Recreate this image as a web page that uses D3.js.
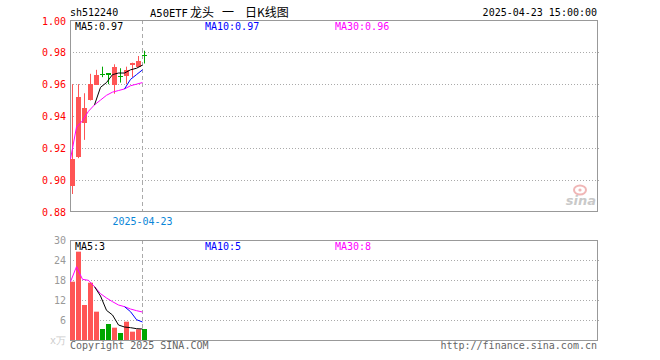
<!DOCTYPE html>
<html>
<head>
<meta charset="utf-8">
<script src="https://cdn.jsdelivr.net/npm/d3@7"></script>
<style>
  body { margin: 0; background: #fff; }
  svg text { font-family: "DejaVu Sans Mono", monospace; font-size: 10px; }
</style>
</head>
<body>
<div id="chart"></div>
<script>
// data
const dates   = ['2025-04-07','2025-04-08','2025-04-09','2025-04-10','2025-04-11','2025-04-14','2025-04-15',
                 '2025-04-16','2025-04-17','2025-04-18','2025-04-21','2025-04-22','2025-04-23']
const opens   = [0.896, 0.914, 0.9355, 0.9497, 0.960, 0.9662, 0.967, 0.960, 0.965, 0.965, 0.9715, 0.971, 0.9785]
const closes  = [0.913, 0.952, 0.945, 0.960, 0.966, 0.9658, 0.966, 0.971, 0.9645, 0.969, 0.973, 0.9745, 0.978]
const highs   = [0.960, 0.960, 0.9543, 0.9665, 0.969, 0.971, 0.967, 0.9725, 0.970, 0.971, 0.9735, 0.9777, 0.981]
const lows    = [0.891, 0.9135, 0.925, 0.9497, 0.960, 0.9644, 0.960, 0.954, 0.961, 0.960, 0.9645, 0.971, 0.973]
const volumes = [17.5, 26.5, 10.5, 17.2, 8.5, 3.3, 4.8, 3.7, 2.1, 5.5, 2.5, 3.2, 3.3]

const priceMA5  = [null, null, null, null, 0.947, 0.958, 0.961, 0.966, 0.967, 0.967, 0.969, 0.970, 0.972]
const priceMA10 = [null, null, null, null, null, null, null, null, null, 0.957, 0.963, 0.966, 0.969]
const priceMA30 = [0.913, 0.933, 0.937, 0.943, 0.947, 0.950, 0.953, 0.955, 0.956, 0.957, 0.959, 0.960, 0.961]
const volMA5    = [null, null, null, null, 16.0, 13.2, 8.9, 7.5, 4.5, 3.9, 3.7, 3.4, 3.3]
const volMA10   = [null, null, null, null, null, null, null, null, null, 10.0, 8.5, 6.1, 5.4]
const volMA30   = [17.5, 22.0, 18.2, 17.9, 16.0, 13.9, 12.6, 11.5, 10.5, 10.0, 9.3, 8.8, 8.4]

const priceTicks = [1.00, 0.98, 0.96, 0.94, 0.92, 0.90, 0.88]
const volTicks   = [30, 24, 18, 12, 6]
const markDate   = '2025-04-23'

function drawChart(){
    const red = '#ff5555'
    const green = '#00a600'
    const maColors = ['#000000', '#0000ff', '#ff00ff']

    // 1. Dimensions
    const dimensions = {
        width: 660,
        height: 360,
        left: 70,
        right: 597,
        priceTop: 20,
        priceBottom: 211,
        volTop: 240,
        volBottom: 340,
        slots: 88,
    }

    const candles = dates.map((d, i) => ({
        date: d, i,
        open: opens[i], close: closes[i], high: highs[i], low: lows[i],
        vol: volumes[i]
    }))

    // 2. Canvas
    const svg = d3.select('#chart')
        .append('svg')
        .attr('width', dimensions.width)
        .attr('height', dimensions.height)

    // 3. Scales
    const xScale = d3.scaleLinear()
        .domain([0, dimensions.slots])
        .range([dimensions.left, dimensions.left + dimensions.slots * 6])

    const yScale = d3.scaleLinear()
        .domain([0.88, 1.00])
        .range([dimensions.priceBottom + 0.5, dimensions.priceTop + 0.5])

    const vScale = d3.scaleLinear()
        .domain([0, 30])
        .range([dimensions.volBottom, dimensions.volTop])

    // 4. Grid and frames
    const grid = svg.append('g')
    grid.selectAll('.pg')
        .data(priceTicks.filter(t => t < 1 && t > 0.88))
        .join('line')
        .attr('x1', dimensions.left).attr('x2', dimensions.right + 2)
        .attr('y1', d => Math.round(yScale(d)) + 0.5)
        .attr('y2', d => Math.round(yScale(d)) + 0.5)
        .attr('stroke', '#aaa').attr('stroke-dasharray', '1,2')
    grid.selectAll('.vg')
        .data(volTicks.filter(t => t < 30))
        .join('line')
        .attr('x1', dimensions.left).attr('x2', dimensions.right + 2)
        .attr('y1', d => Math.round(vScale(d)) + 0.5)
        .attr('y2', d => Math.round(vScale(d)) + 0.5)
        .attr('stroke', '#aaa').attr('stroke-dasharray', '1,2')

    const markIndex = dates.indexOf(markDate)
    const markX = Math.round(xScale(markIndex)) + 0.5
    ;[[dimensions.priceTop, dimensions.priceBottom], [dimensions.volTop, dimensions.volBottom]].forEach(([t, b]) => {
        svg.append('line')
            .attr('x1', markX).attr('x2', markX)
            .attr('y1', t).attr('y2', b)
            .attr('stroke', '#aaa').attr('stroke-dasharray', '4,3')
    })

    // sina watermark
    const wm = svg.append('g').attr('opacity', 0.45)
    wm.append('ellipse').attr('cx', 580).attr('cy', 190).attr('rx', 6).attr('ry', 4.5)
        .attr('fill', 'none').attr('stroke', '#e06060').attr('stroke-width', 2)
    wm.append('circle').attr('cx', 580).attr('cy', 190).attr('r', 1.6).attr('fill', '#e06060')
    wm.append('text').attr('x', 596).attr('y', 205).attr('text-anchor', 'end')
        .style('font-family', 'DejaVu Sans').style('font-size', '13px')
        .style('font-style', 'italic').style('font-weight', 'bold')
        .attr('fill', '#888').text('sina')

    ;[[dimensions.priceTop, dimensions.priceBottom], [dimensions.volTop, dimensions.volBottom]].forEach(([t, b]) => {
        svg.append('rect')
            .attr('x', dimensions.left + 0.5).attr('y', t + 0.5)
            .attr('width', dimensions.right - dimensions.left).attr('height', b - t)
            .attr('fill', 'none').attr('stroke', '#999')
    })

    // 5. Candles
    const colorOf = d => d.close >= d.open ? red : green
    const cg = svg.append('g')
    cg.selectAll('.wick')
        .data(candles)
        .join('line')
        .attr('x1', d => xScale(d.i) + 2.5).attr('x2', d => xScale(d.i) + 2.5)
        .attr('y1', d => yScale(d.high)).attr('y2', d => yScale(d.low))
        .attr('stroke', colorOf)
    cg.selectAll('.body')
        .data(candles)
        .join('rect')
        .attr('x', d => xScale(d.i))
        .attr('width', 5)
        .attr('y', d => Math.round(yScale(Math.max(d.open, d.close))))
        .attr('height', d => Math.max(1, Math.round(Math.abs(yScale(d.open) - yScale(d.close)))))
        .attr('fill', colorOf)

    // volume bars
    svg.append('g').selectAll('rect')
        .data(candles)
        .join('rect')
        .attr('x', d => xScale(d.i))
        .attr('width', 5)
        .attr('y', d => vScale(d.vol))
        .attr('height', d => vScale(0) - vScale(d.vol))
        .attr('fill', colorOf)

    // MA lines
    const drawMA = (values, scale, color) => {
        const line = d3.line()
            .defined(d => d != null)
            .x((d, i) => xScale(i) + 0.5)
            .y(d => scale(d))
        svg.append('path')
            .attr('d', line(values))
            .attr('fill', 'none')
            .attr('stroke', color)
            .attr('stroke-width', 1)
    }
    ;[priceMA30, priceMA10, priceMA5].forEach((s, k) => drawMA(s, yScale, maColors[2 - k]))
    ;[volMA30, volMA10, volMA5].forEach((s, k) => drawMA(s, vScale, maColors[2 - k]))

    // 6. Axes labels
    svg.append('g').selectAll('text')
        .data(priceTicks)
        .join('text')
        .attr('x', 66).attr('y', d => yScale(d) + 4)
        .attr('text-anchor', 'end')
        .attr('fill', '#ff0000')
        .text(d => d3.format('.2f')(d))
    svg.append('g').selectAll('text')
        .data(volTicks)
        .join('text')
        .attr('x', 66).attr('y', d => vScale(d) + 4)
        .attr('text-anchor', 'end')
        .attr('fill', '#999')
        .text(d => d)
    svg.append('text').attr('x', 66).attr('y', 344).attr('text-anchor', 'end')
        .attr('fill', '#ccc').text('x万')

    svg.append('text')
        .attr('x', markX).attr('y', 225).attr('text-anchor', 'middle')
        .attr('fill', '#0a86d8').text(markDate)

    // legends
    const last = a => a[a.length - 1]
    const legend = [
        ['MA5:', last(priceMA5), last(volMA5)],
        ['MA10:', last(priceMA10), last(volMA10)],
        ['MA30:', last(priceMA30), last(volMA30)],
    ]
    const legendX = [75, 205, 335]
    legend.forEach(([name, p, v], k) => {
        svg.append('text').attr('x', legendX[k]).attr('y', 30)
            .attr('fill', maColors[k]).text(name + d3.format('.2f')(p))
        svg.append('text').attr('x', legendX[k]).attr('y', 250)
            .attr('fill', maColors[k]).text(name + Math.round(v))
    })

    // header and footer
    svg.append('text').attr('x', 70).attr('y', 16).attr('fill', '#000').text('sh512240')
    const title = svg.append('text').attr('y', 17).attr('fill', '#000')
    title.append('tspan').attr('x', 150).style('font-size', '10.5px').text('A50ETF')
    title.append('tspan').attr('x', 190).style('font-family', '"Noto Sans CJK SC"').style('font-size', '12px').text('龙头')
    title.append('tspan').attr('x', 222).style('font-family', '"Noto Sans CJK SC"').style('font-size', '12px').text('一')
    title.append('tspan').attr('x', 245).style('font-family', '"Noto Sans CJK SC"').style('font-size', '12px').text('日K线图')
    svg.append('text').attr('x', 597).attr('y', 16).attr('text-anchor', 'end')
        .attr('fill', '#000').text(markDate + ' 15:00:00')

    svg.append('text').attr('x', 70).attr('y', 349).attr('fill', '#666').text('Copyright 2025 SINA.COM')
    svg.append('text').attr('x', 597).attr('y', 349).attr('text-anchor', 'end')
        .attr('fill', '#666').text('http://finance.sina.com.cn')
}

drawChart()
</script>
</body>
</html>
